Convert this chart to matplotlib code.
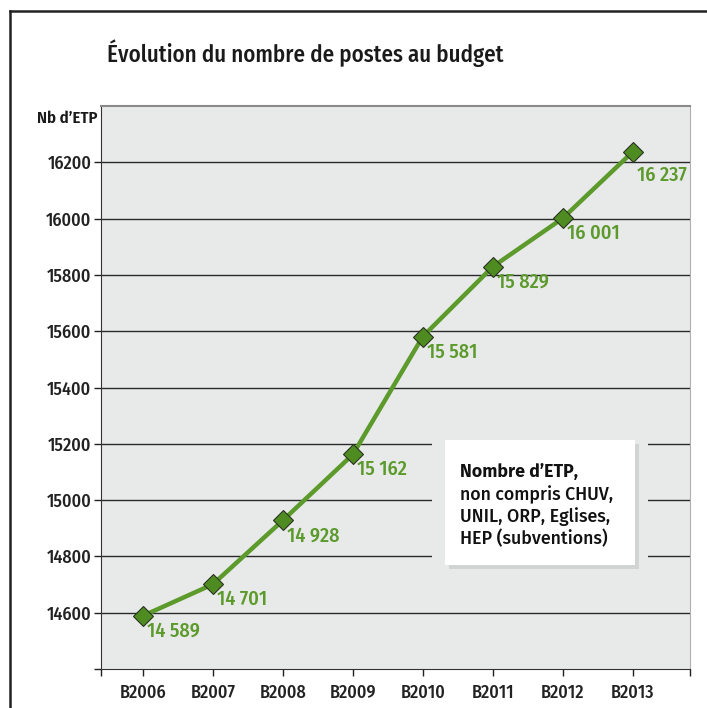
import numpy as np
import matplotlib.pyplot as plt
from matplotlib.lines import Line2D
from matplotlib.patches import Rectangle

# budget years and number of posts (ETP)
years = ['B2006', 'B2007', 'B2008', 'B2009', 'B2010', 'B2011', 'B2012', 'B2013']
etp = [14589, 14701, 14928, 15162, 15581, 15829, 16001, 16237]
labels = ['14 589', '14 701', '14 928', '15 162', '15 581', '15 829', '16 001', '16 237']
yticks = [14600, 14800, 15000, 15200, 15400, 15600, 15800, 16000, 16200]
note = ["Nombre d\u2019ETP,", "non compris CHUV,", "UNIL, ORP, Eglises,", "HEP (subventions)"]

narrow = ['Fira Sans Condensed', 'DejaVu Sans']
plain = ['Fira Sans', 'DejaVu Sans']
green = '#5b9a2b'
bg = '#e8e9e9'

fig = plt.figure(figsize=(7.07, 7.08), dpi=100)
ax = fig.add_axes([101/707, 1-669/708, 589/707, 563/708])
ax.set_facecolor(bg)

x = np.arange(len(years))
ax.plot(x, etp, color=green, lw=3.2, zorder=5)
ax.plot(x, etp, ls='none', marker='D', ms=10.5, mfc='#4e8c22', mec='#2b3320', mew=0.8, zorder=6)

# value labels, a bit right and below each point
for xi, yi, lab in zip(x, etp, labels):
    dy = -10 if lab == '16 237' else -4
    ax.annotate(lab, (xi, yi), xytext=(3, dy), textcoords='offset points',
                ha='left', va='top', color=green, fontsize=14.5, fontweight='medium',
                family=narrow, zorder=7)

ax.set_xlim(-0.6, 7.82)
ax.set_ylim(14400, 16400)
ax.set_yticks([14400] + yticks)
ax.set_yticklabels([''] + [str(v) for v in yticks], family=narrow, fontsize=13, fontweight='medium')
ax.set_xticks(list(x) + [-0.6, 7.82])
ax.set_xticklabels(years + ['', ''], family=narrow, fontsize=13, fontweight='medium')
ax.tick_params(axis='both', length=5, width=1, color='#222222', labelcolor='#222222')
ax.tick_params(axis='x', pad=6)
ax.tick_params(axis='y', pad=2)

for v in yticks:
    ax.axhline(v, color='#2a2a2a', lw=1, zorder=1)

ax.spines['top'].set_color('#8a8a8a')
ax.spines['top'].set_linewidth(1.5)
ax.spines['right'].set_color('#b0b0b0')
ax.spines['left'].set_color('#333333')
ax.spines['bottom'].set_color('#333333')

# note box (grey clearance, shadow, white box)
fig.add_artist(Rectangle((432/707, 1-578/708), 216/707, 150/708, transform=fig.transFigure,
                         facecolor=bg, edgecolor='none', zorder=3))
fig.add_artist(Rectangle((449/707, 1-569/708), 190/707, 125/708, transform=fig.transFigure,
                         facecolor='#d2d3d3', edgecolor='none', zorder=3))
fig.add_artist(Rectangle((445/707, 1-565/708), 190/707, 125/708, transform=fig.transFigure,
                         facecolor='white', edgecolor='none', zorder=3))
for i, line in enumerate(note):
    fig.text(460/707, 1-(472 + 22.3*i)/708, line, fontsize=12.8, family=plain,
             fontweight='bold' if i == 0 else 'medium', va='center', ha='left',
             color='#111111', zorder=4)

# title and axis caption
fig.text(107/707, 1-53/708, "\u00c9volution du nombre de postes au budget", fontsize=16.5,
         family=narrow, fontweight='medium', va='center', ha='left', color='#1a1a1a')
fig.text(97/707, 1-118/708, "Nb d\u2019ETP", fontsize=12, family=narrow, fontweight='semibold',
         va='center', ha='right', color='#1a1a1a')

# outer frame
fig.add_artist(Line2D([10/707, 10/707], [0, 1-11/708], color='#222222', lw=1.8))
fig.add_artist(Line2D([10/707, 1], [1-11/708, 1-11/708], color='#222222', lw=1.8))

fig.savefig('out.png', dpi=100)
